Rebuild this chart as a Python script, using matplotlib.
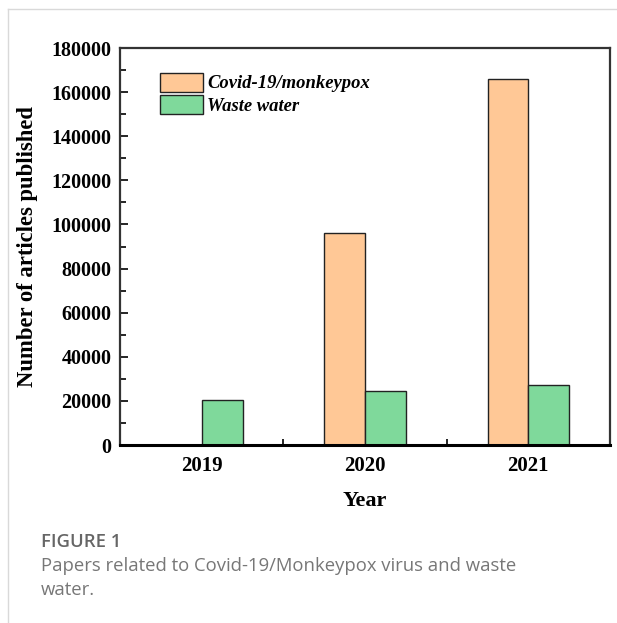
import numpy as np
import matplotlib
matplotlib.use("Agg")
import matplotlib.pyplot as plt
from matplotlib.lines import Line2D
from matplotlib.ticker import MultipleLocator, FixedLocator

years = ['2019', '2020', '2021']
covid_monkeypox = [0, 96000, 166000]
waste_water = [20400, 24500, 27200]

plt.rcParams['font.family'] = 'Liberation Serif'

fig = plt.figure(figsize=(6.17, 6.23), dpi=100)
ax = fig.add_axes([0.1945, 0.2857, 0.7942, 0.6372])

x = np.arange(len(years))
w = 0.25
ax.bar(x - w / 2, covid_monkeypox, w, color='#ffc896', edgecolor='#222222',
       linewidth=1.0, label='Covid-19/monkeypox')
ax.bar(x + w / 2, waste_water, w, color='#7fd99b', edgecolor='#222222',
       linewidth=1.0, label='Waste water')

ax.set_xlim(-0.5, 2.5)
ax.set_ylim(0, 180000)
ax.set_xticks(x)
ax.set_xticklabels(years)
ax.xaxis.set_minor_locator(FixedLocator([0.5, 1.5]))
ax.yaxis.set_major_locator(MultipleLocator(20000))
ax.yaxis.set_minor_locator(MultipleLocator(10000))

ax.tick_params(axis='x', which='major', length=0, pad=8)
ax.tick_params(axis='x', which='minor', direction='in', length=4, width=1.2)
ax.tick_params(axis='y', which='major', direction='in', length=6, width=1.2, pad=6)
ax.tick_params(axis='y', which='minor', direction='in', length=4, width=1.2)
for lab in ax.get_xticklabels():
    lab.set_fontsize(15)
    lab.set_fontweight('bold')
for lab in ax.get_yticklabels():
    lab.set_fontsize(14.5)
    lab.set_fontweight('bold')

for side in ['left', 'top', 'right']:
    ax.spines[side].set_color('#333333')
    ax.spines[side].set_linewidth(1.6)
ax.spines['bottom'].set_color('black')
ax.spines['bottom'].set_linewidth(2.2)

ax.set_xlabel('Year', fontsize=16, fontweight='bold', labelpad=11)
ax.set_ylabel('Number of articles published', fontsize=16.3, fontweight='bold', labelpad=10)

leg = ax.legend(loc='upper left', bbox_to_anchor=(0.066, 0.957), frameon=False,
                prop={'size': 13.4, 'weight': 'bold', 'style': 'italic'},
                handlelength=2.3, handleheight=1.2, handletextpad=0.25,
                labelspacing=0.15, borderaxespad=0)

# panel border
fig.add_artist(Line2D([0.013, 1.0], [0.985, 0.985], color='#d9d9d9', lw=1.0))
fig.add_artist(Line2D([0.013, 0.013], [0.0, 0.985], color='#d9d9d9', lw=1.0))

fig.text(0.066, 0.122, 'FIGURE 1', fontsize=13.3, color='#666666',
         family='Open Sans', fontweight='semibold')
fig.text(0.066, 0.083, 'Papers related to Covid-19/Monkeypox virus and waste',
         fontsize=13.3, color='#777777', family='Open Sans')
fig.text(0.066, 0.045, 'water.', fontsize=13.3, color='#777777', family='Open Sans')

fig.savefig('out.png', dpi=100)
